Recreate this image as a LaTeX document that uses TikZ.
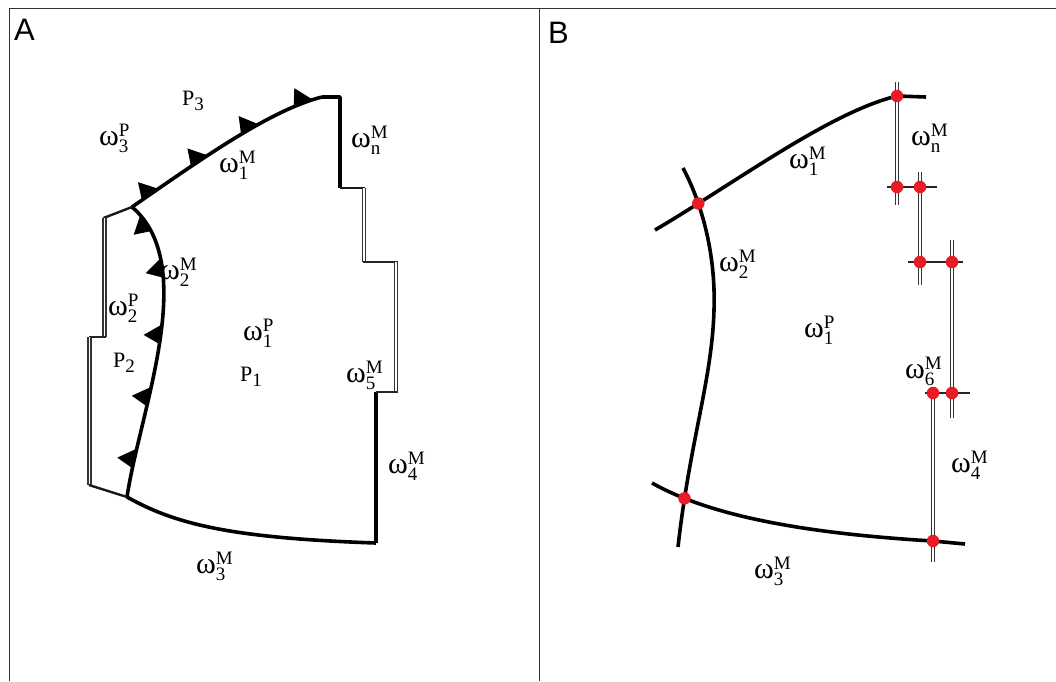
\documentclass[tikz,border=0pt]{standalone}
\usepackage{fontspec}
\setmainfont{Liberation Serif}
\newfontfamily\panelfont{Liberation Sans}
\usetikzlibrary{decorations.markings,intersections}

% label helpers: omega with stacked super-/subscript, letter with subscript
\newcommand\scrfont{\fontsize{19}{19}\selectfont}
\newcommand\omlab[2]{{\fontsize{30}{30}\selectfont ω}\rlap{\raisebox{9pt}{\scrfont #1}}\raisebox{-7pt}{\scrfont #2}}
\newcommand\plab[1]{{\fontsize{22}{24}\selectfont P}\raisebox{-5pt}{\scrfont #1}}
% saw tooth of a thrust boundary, drawn in the local frame of the path
\newcommand\tooth{\fill[black] (-10pt,0pt) -- (10pt,0pt) -- (-3pt,17pt) -- cycle;}

\begin{document}
\begin{tikzpicture}[x=1pt,y=-1pt,
  frame/.style={draw=black!80, line width=1.9pt},
  bound/.style={draw=black, line width=3.6pt, line join=round},
  side/.style={draw=black!90, line width=2.4pt, line join=round},
  thinl/.style={draw=black!85, line width=1.5pt},
  dbl/.style={draw=black!80, line width=1.5pt, double=white, double distance=1.8pt},
  rdot/.style={circle, fill={rgb,255:red,232;green,28;blue,36}, inner sep=0pt, minimum size=12.5pt},
  lab/.style={inner sep=0pt, anchor=base west},
  panel/.style={inner sep=0pt, anchor=base west, font=\panelfont\fontsize{31}{34}\selectfont}
]
\useasboundingbox[fill=white] (0,0) rectangle (1056,681);

% outer frame and panel divider
\draw[frame] (9.5,681) -- (9.5,8.5) -- (1056,8.5);
\draw[frame] (539.5,8.5) -- (539.5,681);
\node[panel] (labA) at (14,40) {A};
\node[panel] (labB) at (548,43) {B};

% ================= panel A =================
\coordinate (a1) at (132,207);   % junction of omega1 and omega2
\coordinate (a2) at (127,497);   % junction of omega2 and omega3
\coordinate (a3) at (322,97);
\coordinate (a4) at (340,97);
\coordinate (a5) at (340,188);
\coordinate (a6) at (376,543);

% omega_1^M with teeth
\draw[bound, postaction={decorate, decoration={markings,
    mark=at position 0.1 with {\tooth},
    mark=at position 0.37 with {\tooth},
    mark=at position 0.64 with {\tooth},
    mark=at position 0.91 with {\tooth}}}]
  (a1) .. controls (200,160) and (270,110) .. (a3);
\draw[bound] (a3) -- (a4) -- (a5);

% omega_2^M with teeth
\draw[bound, postaction={decorate, decoration={markings,
    mark=at position 0.13 with {\tooth},
    mark=at position 0.34 with {\tooth},
    mark=at position 0.55 with {\tooth},
    mark=at position 0.77 with {\tooth},
    mark=at position 0.93 with {\tooth}}}]
  (a2) .. controls (140,410) and (200,265) .. (a1);

% omega_3^M and omega_4^M
\draw[bound] (a2) .. controls (175,524) and (230,538) .. (a6);
\draw[bound] (a6) -- (376,392);

% right staircase (omega_n^M ... omega_5^M)
\draw[side] (a5) -- (365,188);
\draw[dbl] (364,188) -- (364,262);
\draw[thinl] (363,262) -- (397.5,262);
\draw[dbl] (396,262) -- (396,392);
\draw[thinl] (375.5,392) -- (397.5,392);

% left boundary of P2
\draw[side] (a1) -- (103.5,218);
\draw[dbl] (104.5,218) -- (104.5,337);
\draw[thinl] (88.5,337) -- (106,337);
\draw[dbl] (89.5,337) -- (89.5,485);
\draw[side] (89,485) -- (a2);

% labels of panel A
\node[lab] (A-p3) at (182,105) {\plab{3}};
\node[lab] (A-w3p) at (99,145) {\omlab{P}{3}};
\node[lab] (A-w1m) at (219,172) {\omlab{M}{1}};
\node[lab] (A-wnm) at (351,147) {\omlab{M}{n}};
\node[lab] (A-w2m) at (160,279) {\omlab{M}{2}};
\node[lab] (A-w2p) at (108,315) {\omlab{P}{2}};
\node[lab] (A-p2) at (113,367) {\plab{2}};
\node[lab] (A-w1p) at (243,340) {\omlab{P}{1}};
\node[lab] (A-p1) at (240,381) {\plab{1}};
\node[lab] (A-w5m) at (346,382) {\omlab{M}{5}};
\node[lab] (A-w4m) at (388,473) {\omlab{M}{4}};
\node[lab] (A-w3m) at (196,573) {\omlab{M}{3}};

% ================= panel B =================
\coordinate (b1) at (897,96);
\coordinate (b2) at (933,541);

\draw[bound, name path=topB] (655,230) .. controls (735,183) and (830,112) .. (b1) -- (926,97);
\draw[bound, name path=leftB] (683,168) .. controls (700,200) and (716,250) .. (714,310)
  .. controls (712,380) and (690,440) .. (678,547);
\draw[bound, name path=botB] (652,483) .. controls (700,510) and (780,532) .. (b2) -- (965,544);

\path[name intersections={of=topB and leftB, by=bx1}];
\path[name intersections={of=botB and leftB, by=bx2}];

% fault segments of the right boundary
\draw[dbl] (897,82) -- (897,205);
\draw[dbl] (920,172) -- (920,285);
\draw[dbl] (952,240) -- (952,418);
\draw[dbl] (933,387) -- (933,562);
\draw[thinl] (887,187) -- (937,187);
\draw[thinl] (908,262) -- (963,262);
\draw[thinl] (925,393) -- (970,393);

% junction points
\node[rdot] (d1) at (bx1) {};
\node[rdot] (d2) at (bx2) {};
\node[rdot] (d3) at (b1) {};
\node[rdot] (d4) at (897,187) {};
\node[rdot] (d5) at (920,187) {};
\node[rdot] (d6) at (920,262) {};
\node[rdot] (d7) at (952,262) {};
\node[rdot] (d8) at (952,393) {};
\node[rdot] (d9) at (933,393) {};
\node[rdot] (d10) at (b2) {};

% labels of panel B
\node[lab] (B-w1m) at (789,168) {\omlab{M}{1}};
\node[lab] (B-wnm) at (911,145) {\omlab{M}{n}};
\node[lab] (B-w2m) at (719,271) {\omlab{M}{2}};
\node[lab] (B-w1p) at (804,337) {\omlab{P}{1}};
\node[lab] (B-w6m) at (905,378) {\omlab{M}{6}};
\node[lab] (B-w4m) at (951,472) {\omlab{M}{4}};
\node[lab] (B-w3m) at (754,578) {\omlab{M}{3}};
\end{tikzpicture}
\end{document}
